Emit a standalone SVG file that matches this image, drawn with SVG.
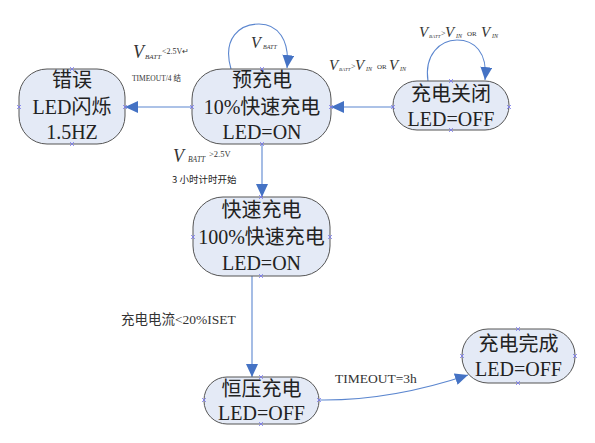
<svg xmlns="http://www.w3.org/2000/svg" width="595" height="443" viewBox="0 0 595 443">
<defs>
<style>
.node{fill:#E4EAF6;stroke:#555;stroke-width:1}
.lbl{font-family:"Liberation Serif","Noto Sans CJK SC",serif;font-size:20px;fill:#222;text-anchor:middle}
.edge{fill:none;stroke:#5B86CF;stroke-width:1.1}
.cp{stroke:#7878F0;stroke-width:0.8}
.v{font-family:"Liberation Serif","Noto Sans CJK SC",serif;font-style:italic;fill:#333}
.t{font-family:"Liberation Serif","Noto Sans CJK SC",serif;fill:#333}
.s{font-family:"Noto Sans CJK SC","Liberation Sans",sans-serif;fill:#222}
</style>
<marker id="ah" markerUnits="userSpaceOnUse" markerWidth="14" markerHeight="12" refX="13" refY="6" orient="auto">
<path d="M0,0 L13,6 L0,12 Z" fill="#4472C4"/>
</marker>
<symbol id="x" overflow="visible"><path class="cp" d="M-2,-2 L2,2 M-2,2 L2,-2"/></symbol>
</defs>

<g id="connectors">
<path class="edge" d="M393,107 L331,107" marker-end="url(#ah)"/>
<path class="edge" d="M192,107 L125,107" marker-end="url(#ah)"/>
<path class="edge" d="M262,144 L262,197" marker-end="url(#ah)"/>
<path class="edge" d="M252,276 L252,377" marker-end="url(#ah)"/>
<path class="edge" d="M319,400 Q390,401 468,375" marker-end="url(#ah)"/>
<path class="edge" d="M231,69 C222,38 240,24 259,24 C278,24 290,40 287,68" marker-end="url(#ah)"/>
<path class="edge" d="M428,81 C424,55 440,40 457,40 C474,40 488,52 485,80" marker-end="url(#ah)"/>
</g>

<g id="labels">
<text class="v" x="133" y="58" font-size="18">V</text>
<text class="v" x="145" y="59" font-size="7">BATT</text>
<text class="t" x="162" y="54" font-size="8">&lt;2.5V↵</text>
<text class="t" x="132" y="81" font-size="7.5">TIMEOUT/4 结</text>

<text class="v" x="251" y="48" font-size="16">V</text>
<text class="v" x="263" y="49" font-size="6">BATT</text>

<text class="v" x="173" y="162" font-size="18">V</text>
<text class="v" x="188" y="162" font-size="7.5">BATT</text>
<text class="t" x="209" y="157" font-size="8.5">&gt;2.5V</text>
<text class="s" x="172" y="183" font-size="9.5">3 小时计时开始</text>

<text class="v" x="419" y="37" font-size="15">V</text>
<text class="v" x="429" y="38" font-size="5">BATT</text>
<text class="t" x="441" y="36" font-size="8">&gt;</text>
<text class="v" x="445" y="37" font-size="15">V</text>
<text class="v" x="456" y="38" font-size="6">IN</text>
<text class="t" x="467" y="36" font-size="7">OR</text>
<text class="v" x="481" y="37" font-size="15">V</text>
<text class="v" x="492" y="38" font-size="6">IN</text>

<text class="v" x="329" y="70" font-size="15">V</text>
<text class="v" x="339" y="71" font-size="5">BATT</text>
<text class="t" x="351" y="69" font-size="8">&gt;</text>
<text class="v" x="355" y="70" font-size="15">V</text>
<text class="v" x="366" y="71" font-size="6">IN</text>
<text class="t" x="377" y="69" font-size="7">OR</text>
<text class="v" x="389" y="70" font-size="15">V</text>
<text class="v" x="400" y="71" font-size="6">IN</text>

<text class="t" x="121" y="324" font-size="13.5">充电电流&lt;20%ISET</text>
<text class="t" x="335" y="383" font-size="13.5">TIMEOUT=3h</text>
</g>

<g id="error">
<rect class="node" x="19" y="69" width="106" height="75" rx="28" ry="28"/>
<text class="lbl" x="72" y="87">错误</text>
<text class="lbl" x="72" y="114">LED闪烁</text>
<text class="lbl" x="72" y="139">1.5HZ</text>
<use href="#x" x="72" y="69"/><use href="#x" x="72" y="144"/><use href="#x" x="19" y="107"/><use href="#x" x="125" y="107"/>
</g>

<g id="precharge">
<rect class="node" x="192" y="69" width="139" height="75" rx="30" ry="30"/>
<text class="lbl" x="262" y="87">预充电</text>
<text class="lbl" x="262" y="114">10%快速充电</text>
<text class="lbl" x="262" y="139">LED=ON</text>
<use href="#x" x="262" y="69"/><use href="#x" x="262" y="144"/><use href="#x" x="192" y="107"/><use href="#x" x="331" y="107"/>
</g>

<g id="charge-off">
<rect class="node" x="393" y="81" width="116" height="49" rx="24" ry="24"/>
<text class="lbl" x="451" y="101">充电关闭</text>
<text class="lbl" x="451" y="126">LED=OFF</text>
<use href="#x" x="451" y="81"/><use href="#x" x="451" y="130"/><use href="#x" x="393" y="107"/><use href="#x" x="509" y="107"/>
</g>

<g id="fast-charge">
<rect class="node" x="193" y="197" width="137" height="79" rx="30" ry="30"/>
<text class="lbl" x="261.5" y="217">快速充电</text>
<text class="lbl" x="261.5" y="244">100%快速充电</text>
<text class="lbl" x="261.5" y="270">LED=ON</text>
<use href="#x" x="261" y="197"/><use href="#x" x="261" y="276"/><use href="#x" x="193" y="237"/><use href="#x" x="330" y="237"/>
</g>

<g id="cv-charge">
<rect class="node" x="204" y="377" width="115" height="47" rx="23" ry="23"/>
<text class="lbl" x="261.5" y="396">恒压充电</text>
<text class="lbl" x="261.5" y="420">LED=OFF</text>
<use href="#x" x="261" y="377"/><use href="#x" x="261" y="424"/><use href="#x" x="204" y="400"/><use href="#x" x="319" y="400"/>
</g>

<g id="charge-done">
<rect class="node" x="462" y="329" width="113" height="54" rx="26" ry="26"/>
<text class="lbl" x="518.5" y="351">充电完成</text>
<text class="lbl" x="518.5" y="376">LED=OFF</text>
<use href="#x" x="518" y="329"/><use href="#x" x="518" y="383"/><use href="#x" x="462" y="356"/><use href="#x" x="575" y="356"/>
</g>
</svg>
